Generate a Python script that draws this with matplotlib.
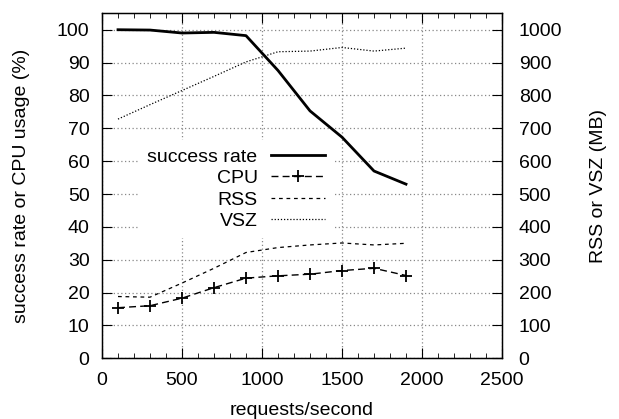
import numpy as np
import matplotlib.pyplot as plt
from matplotlib.ticker import MultipleLocator

plt.rcParams['font.family'] = ['Liberation Sans', 'DejaVu Sans']

# requests per second (x axis)
rps = [100, 300, 500, 700, 900, 1100, 1300, 1500, 1700, 1900]
# left axis (%)
success_rate = [100.0, 99.9, 99.0, 99.2, 98.2, 87.6, 75.3, 67.3, 57.0, 53.0]
cpu = [15.4, 16.0, 18.3, 21.5, 24.4, 25.1, 25.6, 26.7, 27.4, 25.2]
# right axis (MB)
rss = [188, 186, 229, 274, 322, 337, 345, 351, 345, 350]
vsz = [728, 772, 815, 858, 902, 933, 935, 946, 935, 944]

FS = 14

fig = plt.figure(figsize=(6.19, 4.19), dpi=100)
ax1 = fig.add_axes([102 / 619, 1 - 358.3 / 419, 400 / 619, 345 / 419])
ax2 = ax1.twinx()

ax1.plot(rps, success_rate, color='black', lw=2.0, label='success rate')
ax1.plot(rps, cpu, color='black', lw=1.0, linestyle=(0, (5, 3)),
         marker='+', markersize=9, markeredgewidth=1.3, label='CPU')
ax2.plot(rps, rss, color='black', lw=0.9, linestyle=(0, (3, 3)), label='RSS')
ax2.plot(rps, vsz, color='black', lw=0.9, linestyle=(0, (1, 1.5)), label='VSZ')

ax1.set_xlim(0, 2500)
ax1.set_ylim(0, 105)
ax2.set_ylim(0, 1050)

ax1.xaxis.set_major_locator(MultipleLocator(500))
ax1.xaxis.set_minor_locator(MultipleLocator(100))
ax1.yaxis.set_major_locator(MultipleLocator(10))
ax2.yaxis.set_major_locator(MultipleLocator(100))

ax1.tick_params(axis='x', which='major', direction='in', length=7, top=True, labelsize=FS, pad=10)
ax1.tick_params(axis='x', which='minor', direction='in', length=3.5, top=True)
ax1.tick_params(axis='y', direction='in', length=7, right=False, labelsize=FS, pad=9)
ax2.tick_params(axis='y', direction='in', length=7, labelsize=FS, pad=12)

ax1.grid(True, which='major', color='#888888', linestyle=(0, (1, 2)), lw=0.9)

ax1.set_xlabel('requests/second', fontsize=FS, labelpad=9)
ax1.set_ylabel('success rate or CPU usage (%)', fontsize=FS, labelpad=19)
ax2.set_ylabel('RSS or VSZ (MB)', fontsize=FS, labelpad=20)

handles = ax1.get_lines() + ax2.get_lines()
leg = ax2.legend(handles, [h.get_label() for h in handles], loc='upper right',
                 bbox_to_anchor=(0.577, 0.632), markerfirst=False, fontsize=FS,
                 frameon=True, fancybox=False, handlelength=2.8, labelspacing=0.2,
                 borderpad=0.4, handletextpad=0.67, borderaxespad=0)
leg.get_frame().set_facecolor('white')
leg.get_frame().set_edgecolor('none')
leg.get_frame().set_alpha(1)
leg._legend_box.align = 'right'

for s in ax1.spines.values():
    s.set_linewidth(1.0)

fig.savefig('out.png', dpi=100)
